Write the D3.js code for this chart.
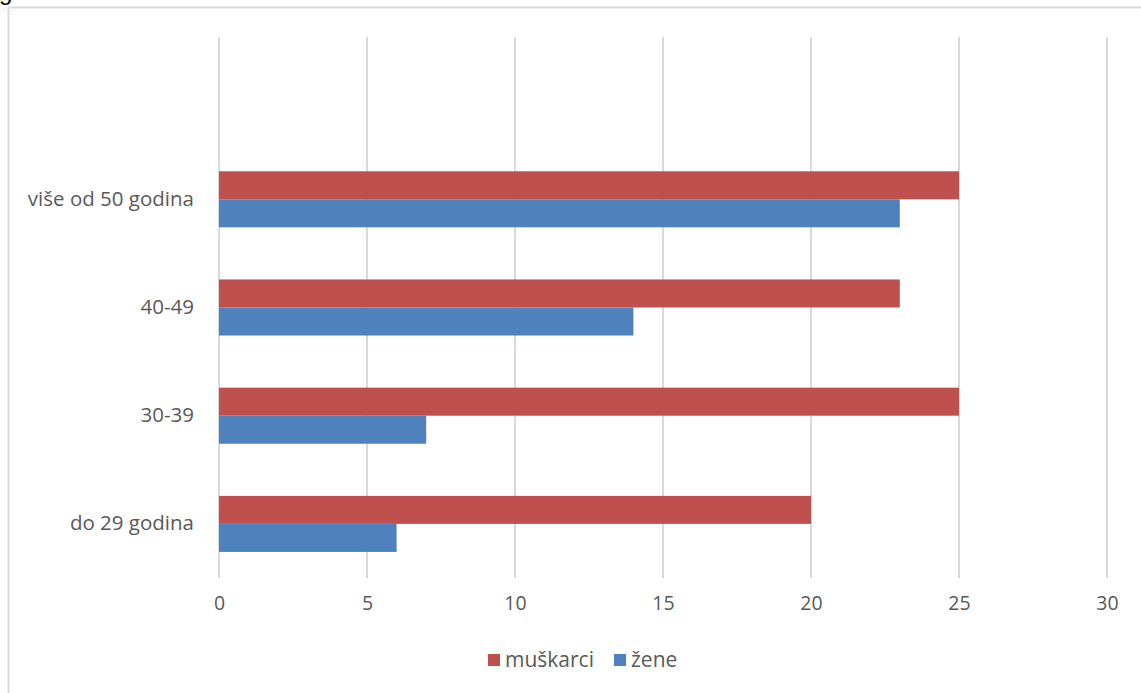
<!DOCTYPE html>
<html>
<head>
<meta charset="utf-8">
<script src="https://cdn.jsdelivr.net/npm/d3@7"></script>
<style>
body { margin: 0; background: #fff; }
svg { display: block; }
</style>
</head>
<body>
<svg id="chart" width="1141" height="693"></svg>
<script>
// categories top to bottom (first one is empty in the source chart)
var categories = ["", "više od 50 godina", "40-49", "30-39", "do 29 godina"];
var series = ["muškarci", "žene"];
var muskarci = [null, 25, 23, 25, 20];
var zene = [null, 23, 14, 7, 6];
var ticks = [0, 5, 10, 15, 20, 25, 30];
var colors = ["#c0504d", "#4f81bd"];

var svg = d3.select("#chart");
var font = "'Open Sans', Lato, sans-serif";

// cut-off heading above the frame
svg.append("text")
  .attr("x", -1).attr("y", 0)
  .style("font-family", "Arial, 'Liberation Sans', sans-serif")
  .style("font-size", "24px")
  .attr("fill", "#000")
  .text("godine");

// chart frame
svg.append("rect")
  .attr("x", 8.5).attr("y", 7.5)
  .attr("width", 1150).attr("height", 700)
  .attr("fill", "none")
  .attr("stroke", "#d9d9d9")
  .attr("stroke-width", 2);

var x = d3.scaleLinear().domain([0, 30]).range([219, 1107]);
var y = d3.scaleBand().domain(categories).range([37, 578]).paddingInner(0).paddingOuter(0);
var inner = d3.scaleBand().domain(series).range([0, y.bandwidth()]).paddingInner(0).paddingOuter(0.93);

// gridlines
svg.append("g").selectAll("line")
  .data(ticks)
  .enter().append("line")
  .attr("x1", function(d) { return x(d); })
  .attr("x2", function(d) { return x(d); })
  .attr("y1", 37).attr("y2", 578)
  .attr("stroke", "#d9d9d9")
  .attr("stroke-width", 2);

// bars
var data = [muskarci, zene];
series.forEach(function(s, si) {
  svg.append("g").selectAll("rect")
    .data(categories.map(function(c, i) { return { cat: c, v: data[si][i] }; }).filter(function(d) { return d.v != null; }))
    .enter().append("rect")
    .attr("x", x(0))
    .attr("y", function(d) { return y(d.cat) + inner(s); })
    .attr("width", function(d) { return x(d.v) - x(0); })
    .attr("height", inner.bandwidth())
    .attr("fill", colors[si]);
});

// x axis labels
var xAxis = d3.axisBottom(x).tickValues(ticks).tickSize(0).tickPadding(18);
var gx = svg.append("g").attr("transform", "translate(0,578)").call(xAxis);
gx.select(".domain").remove();
gx.selectAll("text")
  .style("font-family", font)
  .style("font-size", "19.5px")
  .attr("fill", "#595959");

// y axis labels
var yAxis = d3.axisLeft(y).tickSize(0).tickPadding(25);
var gy = svg.append("g").attr("transform", "translate(219,0)").call(yAxis);
gy.select(".domain").remove();
gy.selectAll("text")
  .style("font-family", font)
  .style("font-size", "20.5px")
  .attr("fill", "#595959");

// legend
var legendX = [488, 614];
var legend = svg.append("g");
series.forEach(function(s, i) {
  legend.append("rect")
    .attr("x", legendX[i]).attr("y", 654)
    .attr("width", 12).attr("height", 12)
    .attr("fill", colors[i]);
  legend.append("text")
    .attr("x", legendX[i] + 17).attr("y", 667)
    .style("font-family", font)
    .style("font-size", "21px")
    .attr("fill", "#595959")
    .text(s);
});
</script>
</body>
</html>
